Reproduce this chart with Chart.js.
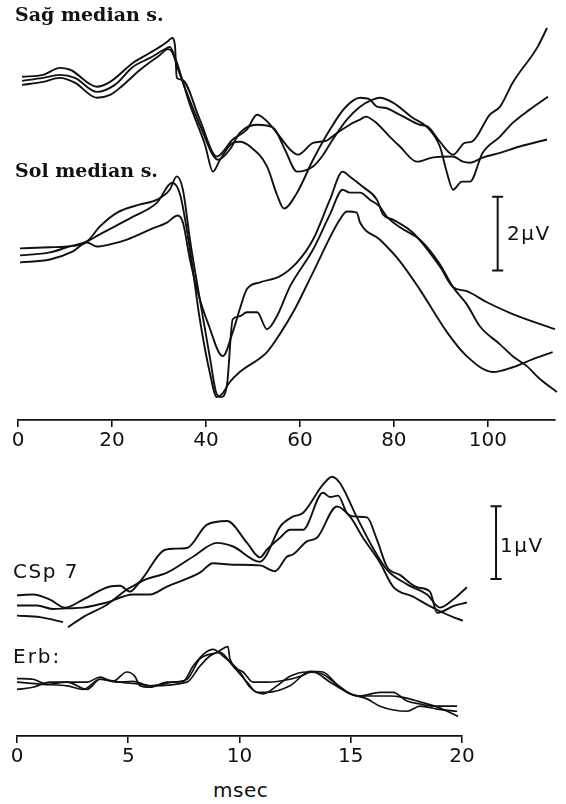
<!DOCTYPE html>
<html>
<head>
<meta charset="utf-8">
<script src="https://cdn.jsdelivr.net/npm/chart.js@4.4.1/dist/chart.umd.min.js"></script>
<style>
  html, body { margin: 0; padding: 0; background: #fff; }
  body { width: 566px; height: 804px; position: relative; overflow: hidden; }
  canvas { position: absolute; left: 0; }
  .lbl { position: absolute; white-space: nowrap; color: #111; line-height: 1; }
  .serif { font-family: "DejaVu Serif", serif; font-weight: bold; font-size: 19px; }
  .sans { font-family: "DejaVu Sans", sans-serif; font-size: 20px; }
</style>
</head>
<body>
<canvas id="upper" width="566" height="455" style="top:0"></canvas>
<canvas id="lower" width="566" height="308" style="top:463px"></canvas>

<div class="lbl serif" style="left:15px;top:5px">Sağ median s.</div>
<div class="lbl serif" style="left:15px;top:161px">Sol median s.</div>
<div class="lbl sans" style="left:507px;top:223px;letter-spacing:1.5px">2µV</div>
<div class="lbl sans" style="left:13px;top:561px;letter-spacing:1.5px">CSp 7</div>
<div class="lbl sans" style="left:500px;top:535px;letter-spacing:1.5px">1µV</div>
<div class="lbl sans" style="left:13px;top:646px;letter-spacing:2px">Erb:</div>
<div class="lbl sans" style="left:213px;top:780px;letter-spacing:0.5px">msec</div>

<script>
// ---- Median nerve SEP, 0-115 ms (three averaged runs per side), [ms, µV] ----
const sagA = [[0.85,0.11],[5.3,0.16],[8.9,0.35],[11.1,0.30],[16.8,-0.16],[19.6,-0.03],[24.5,0.49],[28.1,0.76],[30.2,0.92],[31.7,1.05],[32.8,1.16],[33.4,0.97],[33.8,0.08],[34.9,0.03],[38.7,-1.05],[42.3,-2.05],[45.7,-1.59],[48.7,-1.32],[50.9,-0.92],[52.6,-1.05],[55.1,-1.41],[57.9,-1.86],[59.6,-2.0],[62.8,-1.68],[65.7,-1.62],[67.4,-1.46],[70.6,-1.19],[72.8,-1.05],[74.0,-0.97],[76.0,-1.11],[79.1,-1.51],[81.3,-1.78],[84.9,-2.19],[88.1,-2.08],[92.6,-2.05],[94.7,-2.19],[96.2,-2.22],[98.9,-2.08],[102.6,-1.95],[106.8,-1.78],[112.6,-1.59]];
const sagB = [[0.85,0],[5.3,0.08],[8.9,0.16],[12.1,0.08],[16.8,-0.30],[20.6,-0.11],[24.5,0.38],[28.1,0.62],[31.7,0.89],[32.3,0.92],[33.6,0.57],[36.6,-0.65],[39.8,-1.73],[41.5,-2.46],[43.0,-2.14],[45.7,-1.68],[47.2,-1.65],[49.4,-1.78],[53.0,-2.32],[55.1,-3.08],[56.6,-3.46],[59.4,-3.03],[62.8,-2.14],[66.4,-1.32],[69.6,-0.73],[72.8,-0.46],[74.9,-0.51],[76.4,-0.70],[78.1,-0.73],[81.3,-0.92],[85.5,-1.19],[87.2,-1.24],[89.8,-1.65],[92.6,-2.0],[95.1,-1.68],[96.6,-1.65],[100.4,-0.92],[102.6,-0.70],[105.3,-0.05],[110.6,0.92],[112.6,1.43]];
const sagC = [[0.85,-0.11],[5.3,-0.03],[8.9,0.08],[12.1,-0.05],[16.8,-0.46],[19.6,-0.38],[21.7,-0.19],[26.0,0.30],[30.2,0.70],[31.9,0.86],[32.8,0.78],[34.5,0.16],[38.7,-1.19],[42.6,-2.14],[45.1,-1.86],[47.2,-1.41],[50.9,-1.19],[54.3,-1.27],[56.8,-1.86],[59.4,-2.46],[62.8,-2.32],[64.7,-2.05],[67.0,-1.59],[70.0,-1.05],[72.8,-0.70],[75.5,-0.51],[77.0,-0.46],[79.8,-0.59],[84.0,-1.0],[87.2,-1.27],[89.8,-1.78],[91.3,-2.49],[92.6,-2.95],[94.5,-2.73],[96.2,-2.73],[98.9,-1.95],[102.6,-1.51],[105.3,-1.14],[108.9,-0.78],[112.8,-0.43]];

const solA = [[0.43,0.19],[6.8,0.22],[10.4,0.24],[14.7,0.38],[17.4,0.78],[21.1,1.16],[26.0,1.38],[29.6,1.51],[32.3,1.78],[33.8,2.14],[35.1,1.78],[36.6,0.43],[38.7,-1.19],[40.9,-2.81],[42.3,-3.76],[43.2,-3.84],[44.5,-3.49],[45.7,-1.73],[47.2,-1.65],[48.7,-1.54],[50.9,-1.54],[53.0,-2.0],[55.1,-1.65],[57.9,-0.84],[62.8,0.16],[66.4,1.11],[69.1,1.78],[70.6,1.70],[72.8,1.70],[74.9,1.51],[77.0,1.32],[78.5,1.05],[81.3,0.76],[85.5,0.43],[89.8,-0.24],[92.6,-0.86],[95.5,-1.32],[98.3,-1.92],[102.6,-2.41],[105.3,-2.73],[108.3,-3.0],[111.1,-3.35],[114.7,-3.70]];
const solB = [[0.43,0],[6.8,0.08],[10.4,0.22],[14.7,0.38],[17.4,0.57],[24.5,1.05],[29.6,1.43],[32.8,1.97],[34.5,1.65],[36.6,0.16],[38.7,-1.73],[40.9,-3.22],[42.3,-3.84],[43.4,-3.76],[45.1,-3.43],[47.2,-3.16],[53.0,-2.62],[55.7,-2.14],[58.9,-1.46],[62.8,-0.46],[68.5,0.97],[70.0,1.19],[72.1,1.16],[72.8,0.89],[77.0,0.43],[81.3,-0.16],[85.5,-0.92],[91.3,-2.08],[95.5,-2.73],[101.1,-3.16],[105.3,-3.03],[109.6,-2.81],[113.8,-2.62]];
const solC = [[0.43,-0.19],[6.8,-0.11],[11.7,0.11],[14.7,0.35],[16.8,0.24],[19.6,0.30],[23.2,0.43],[28.1,0.70],[31.7,0.89],[34.0,1.08],[35.1,0.89],[36.6,-0.11],[38.7,-1.19],[40.9,-2.0],[42.6,-2.59],[43.6,-2.73],[45.7,-2.08],[47.2,-1.46],[48.7,-0.92],[51.5,-0.73],[55.7,-0.57],[59.4,-0.19],[62.8,0.43],[66.4,1.51],[69.1,2.27],[70.6,2.14],[73.4,1.86],[76.4,1.51],[77.7,1.11],[79.8,0.97],[84.0,0.62],[89.8,-0.30],[92.6,-0.86],[95.5,-0.97],[99.8,-1.27],[105.3,-1.59],[114.3,-2.0]];

// ---- Short-latency recordings, 0-20 ms, [ms, µV]; null marks a break in the trace ----
const cspA = [[0,0.14],[0.72,0.15],[1.48,0.08],[2.16,-0.03],[2.97,0.08],[4.18,0.26],[4.63,0.27],[5.08,0.19],[5.53,0.32],[6.74,0.45],[7.91,0.67],[8.99,0.86],[9.71,0.81],[10.92,0.60],[11.19,0.68],[11.82,1.08],[12.40,1.22],[12.85,1.27],[13.75,1.66],[14.16,1.77],[14.52,1.68],[15.28,1.21],[16.0,0.79],[16.63,0.49],[17.53,0.29],[18.43,0.15],[19.01,-0.03],[19.60,0.08],[20.22,0.25]];
const cspB = [[0,-0.14],[1.03,-0.16],[2.07,-0.23],[2.18,null],[2.29,-0.30],[2.97,-0.16],[4.04,0.01],[4.94,0.22],[5.53,0.33],[6.56,0.75],[7.01,0.78],[7.64,0.79],[8.54,1.11],[9.44,1.16],[10.34,0.86],[10.92,0.66],[11.24,0.77],[11.82,0.93],[12.27,1.04],[12.85,1.04],[13.75,1.55],[14.07,1.49],[14.43,1.51],[14.83,1.27],[15.28,1.22],[15.73,1.21],[16.18,0.90],[16.63,0.53],[17.21,0.42],[17.98,0.25],[18.56,0.19],[18.88,-0.10],[19.15,-0.08],[19.60,-0.01],[20.22,0.04]];
const cspC = [[0,0],[0.90,0],[1.62,-0.05],[2.25,-0.04],[2.97,-0.03],[4.04,0.04],[5.21,0.15],[5.98,0.15],[6.74,0.26],[8.22,0.45],[8.81,0.58],[9.71,0.56],[10.92,0.55],[11.60,0.47],[12.13,0.67],[12.40,0.70],[13.03,0.88],[13.48,0.93],[14.38,1.36],[14.97,1.22],[15.55,0.93],[16.31,0.59],[16.90,0.26],[17.80,0.12],[18.43,0.01],[19.01,-0.08],[19.60,-0.16],[20.04,-0.21]];

const erbA = [[0,0.05],[0.72,0.04],[1.35,-0.03],[2.25,0],[3.15,0],[3.73,0.07],[4.31,0.01],[4.94,0.14],[5.30,0.08],[5.53,-0.05],[5.98,-0.07],[6.74,0],[7.46,0.01],[7.91,0.22],[8.36,0.38],[8.81,0.45],[9.26,0.36],[10.02,0.14],[10.47,-0.07],[11.06,-0.16],[11.69,-0.05],[12.27,0.08],[13.03,0.14],[13.75,0.11],[14.20,0.01],[14.83,-0.14],[15.42,-0.19],[16.31,-0.14],[16.90,-0.14],[17.53,-0.26],[18.11,-0.30],[18.70,-0.33],[19.78,-0.33]];
const erbB = [[0,0],[1.17,-0.03],[2.25,-0.05],[2.97,-0.10],[3.73,0.04],[4.49,0],[5.21,0.01],[5.98,-0.05],[7.01,0],[7.64,0.04],[8.22,0.32],[8.99,0.41],[9.48,0.49],[9.57,0.32],[10.16,0.14],[10.61,0],[11.24,0],[12.27,0.04],[12.72,0.08],[13.30,0.14],[14.07,0],[14.97,-0.16],[15.73,-0.23],[16.31,-0.33],[17.53,-0.40],[18.11,-0.33],[18.88,-0.37],[19.78,-0.40]];
const erbC = [[0,-0.10],[0.72,-0.07],[1.48,0],[2.25,0],[3.15,-0.10],[3.73,0.04],[4.63,0],[5.53,-0.03],[5.98,-0.05],[7.64,0],[8.22,0.22],[8.67,0.36],[9.12,0.41],[9.71,0.22],[10.34,0],[10.79,-0.14],[11.24,-0.14],[12.27,-0.05],[13.17,0.15],[13.75,0.14],[14.38,-0.03],[15.28,-0.19],[16.0,-0.19],[16.76,-0.19],[17.35,-0.21],[18.11,-0.27],[18.88,-0.34],[19.82,-0.47]];

// axis ticks (ms)
const upperTicks = [0, 20, 40, 60, 80, 100];
const lowerTicks = [0, 5, 10, 15, 20];

// vertical stacking of each group of traces (µV above the time axis)
const UPPER = { xMax: 114.3, yMax: 11.38, sag: 9.19, sol: 4.46, bar: { t: 102.1, from: 4.05, size: 2 } };
const LOWER = { xMax: 20, yMax: 3.753, csp: 1.795, erb: 0.74, bar: { t: 21.53, from: 2.16, size: 1 } };

const INK = '#111';

function trace(points, offset, width) {
  return {
    data: points.map(([t, v]) => ({ x: t, y: v === null ? null : v + offset })),
    borderColor: INK,
    borderWidth: width || 1.9,
    pointRadius: 0,
    fill: false,
    spanGaps: false,
    cubicInterpolationMode: 'monotone',
    clip: false
  };
}

// calibration bar drawn against the chart's own scales
const calibrationBar = {
  id: 'calibrationBar',
  afterDatasetsDraw(chart, args, opts) {
    const { ctx, scales: { x, y } } = chart;
    const px = x.getPixelForValue(opts.t);
    const y1 = y.getPixelForValue(opts.from);
    const y2 = y.getPixelForValue(opts.from + opts.size);
    ctx.save();
    ctx.strokeStyle = INK;
    ctx.lineWidth = 2;
    ctx.beginPath();
    ctx.moveTo(px, y1); ctx.lineTo(px, y2);
    ctx.moveTo(px - 5.5, y1); ctx.lineTo(px + 5.5, y1);
    ctx.moveTo(px - 5.5, y2); ctx.lineTo(px + 5.5, y2);
    ctx.stroke();
    ctx.restore();
  }
};

function timeAxis(max, ticks) {
  return {
    type: 'linear',
    min: 0,
    max: max,
    afterBuildTicks: (axis) => { axis.ticks = ticks.map(v => ({ value: v })); },
    border: { display: true, color: INK, width: 1.8 },
    grid: { display: true, drawOnChartArea: false, drawTicks: true, tickLength: 7, color: INK, lineWidth: 1.6 },
    ticks: { color: INK, padding: 2, maxRotation: 0, autoSkip: false,
             font: { family: 'DejaVu Sans', size: 20 } }
  };
}

function baseOptions(xMax, ticks, yMax, pad, bar) {
  return {
    responsive: false,
    animation: false,
    events: [],
    layout: { padding: pad },
    plugins: { legend: { display: false }, tooltip: { enabled: false }, calibrationBar: bar },
    scales: {
      x: timeAxis(xMax, ticks),
      y: { display: false, min: 0, max: yMax }
    }
  };
}

new Chart(document.getElementById('upper'), {
  type: 'line',
  data: {
    datasets: [
      trace(sagA, UPPER.sag), trace(sagB, UPPER.sag), trace(sagC, UPPER.sag),
      trace(solA, UPPER.sol), trace(solB, UPPER.sol), trace(solC, UPPER.sol)
    ]
  },
  options: baseOptions(UPPER.xMax, upperTicks, UPPER.yMax, { left: 18, right: 11, top: 0, bottom: 0 }, UPPER.bar),
  plugins: [calibrationBar]
});

new Chart(document.getElementById('lower'), {
  type: 'line',
  data: {
    datasets: [
      trace(cspA, LOWER.csp), trace(cspB, LOWER.csp), trace(cspC, LOWER.csp),
      trace(erbA, LOWER.erb, 1.7), trace(erbB, LOWER.erb, 1.7), trace(erbC, LOWER.erb, 1.7)
    ]
  },
  options: baseOptions(LOWER.xMax, lowerTicks, LOWER.yMax, { left: 17, right: 104, top: 0, bottom: 0 }, LOWER.bar),
  plugins: [calibrationBar]
});
</script>
</body>
</html>
